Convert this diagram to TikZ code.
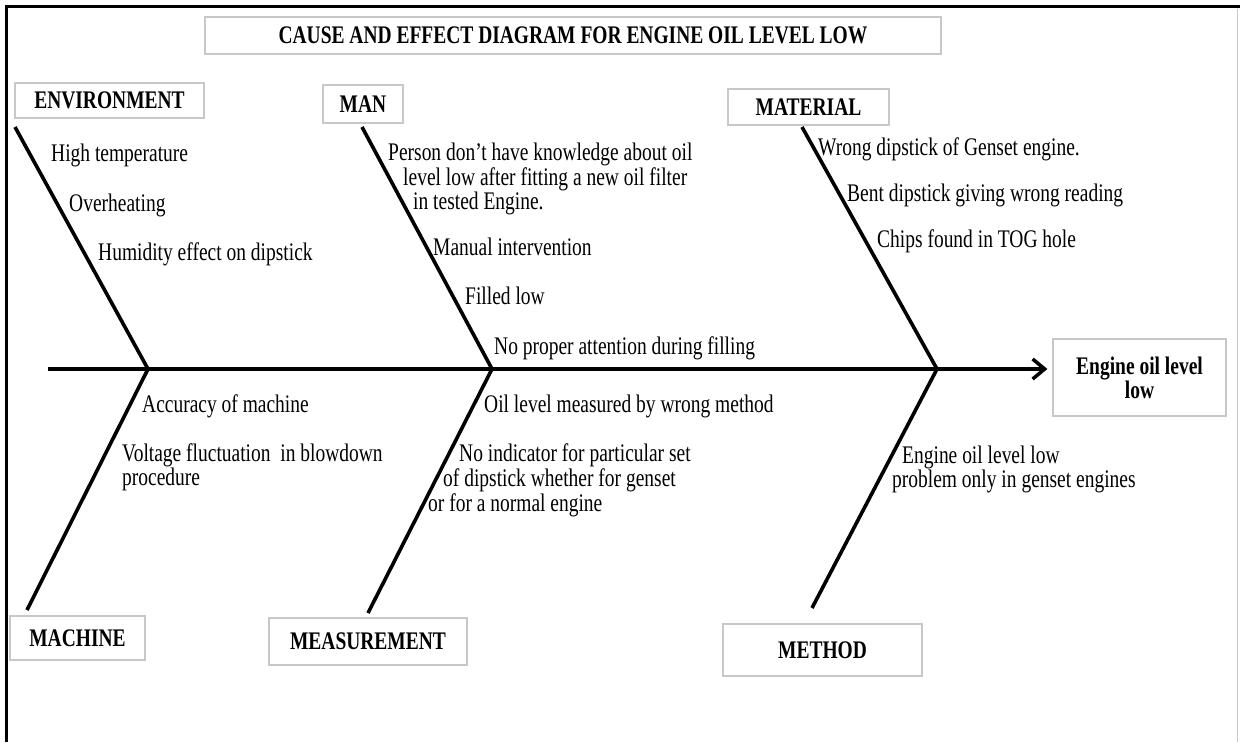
\documentclass[tikz,border=0pt]{standalone}
\usepackage{fontspec}
\setmainfont{Liberation Serif}[FakeStretch=0.77]
\usetikzlibrary{arrows.meta}
\definecolor{boxgray}{RGB}{200,200,200}
\newcommand{\fs}{\fontsize{25.3}{24}\selectfont}
\newcommand{\rows}[1]{\begin{tabular}[t]{@{}l@{}}#1\end{tabular}}
\begin{document}
\begin{tikzpicture}[x=1pt,y=-1pt,
  box/.style={draw=boxgray, line width=1.3pt, inner sep=0pt, font=\fs\bfseries, align=center},
  lbl/.style={anchor=base west, inner sep=0pt, font=\fs},
  bone/.style={line width=3.6pt},
  spine/.style={line width=4pt, -{Straight Barb[length=12pt,width=20pt,line width=3.5pt]}, shorten >=5pt}]
\useasboundingbox (0,0) rectangle (1240,742);
% frame
\draw[line width=3.5pt] (6.5,742) -- (6.5,6.5) -- (1240,6.5);
\draw[boxgray, line width=1pt] (1237.5,9) -- (1237.5,742);
% boxes
\node[box, minimum width=736pt, minimum height=37pt] (title) at (573,35.5) {CAUSE AND EFFECT DIAGRAM FOR ENGINE OIL LEVEL LOW};
\node[box, minimum width=189pt, minimum height=35pt] (env) at (109.5,100.5) {ENVIRONMENT};
\node[box, minimum width=80pt, minimum height=38pt] (man) at (363,104) {MAN};
\node[box, minimum width=161pt, minimum height=36pt] (mat) at (808.5,107) {MATERIAL};
\node[box, minimum width=173pt, minimum height=77pt] (eff) at (1139.5,377.5) {Engine oil level\\low};
\node[box, minimum width=135pt, minimum height=44pt] (mach) at (77.5,638) {MACHINE};
\node[box, minimum width=198pt, minimum height=47pt] (meas) at (368,641.5) {MEASUREMENT};
\node[box, minimum width=199pt, minimum height=52pt] (meth) at (822.5,650) {METHOD};
% coordinates
\coordinate (tail) at (48,369);
\coordinate (j1) at (148,369);
\coordinate (j2) at (492,369);
\coordinate (j3) at (937,369);
\coordinate (envS) at (15,127);
\coordinate (manS) at (362,127);
\coordinate (matS) at (802,127);
\coordinate (machE) at (27,610);
\coordinate (measE) at (368,613);
\coordinate (methE) at (812,608);
% spine and bones
\draw[spine] (tail) -- (tail -| eff.west);
\draw[bone] (envS) -- (j1) -- (machE);
\draw[bone] (manS) -- (j2) -- (measE);
\draw[bone] (matS) -- (j3) -- (methE);
% causes
\node[lbl] (envA) at (51,161) {High temperature};
\node[lbl] (envB) at (69,211) {Overheating};
\node[lbl] (envC) at (98,260) {Humidity effect on dipstick};
\node[lbl] (manA) at (388,160) {\rows{Person don’t have knowledge about oil\\\hspace*{15pt}level low after fitting a new oil filter\\\hspace*{25pt}in tested Engine.}};
\node[lbl] (manB) at (433,255) {Manual intervention};
\node[lbl] (manC) at (465,304) {Filled low};
\node[lbl] (manD) at (494,354) {No proper attention during filling};
\node[lbl] (matA) at (818,155) {Wrong dipstick of Genset engine.};
\node[lbl] (matB) at (847,201) {Bent dipstick giving wrong reading};
\node[lbl] (matC) at (877,247) {Chips found in TOG hole};
\node[lbl] (machA) at (142,412) {Accuracy of machine};
\node[lbl] (machB) at (122,461) {\rows{Voltage fluctuation\ \ in blowdown\\procedure}};
\node[lbl] (measA) at (484,412) {Oil level measured by wrong method};
\node[lbl] (measB) at (428,461) {\rows{\hspace*{31pt}No indicator for particular set\\\hspace*{15pt}of dipstick whether for genset\\or for a normal engine}};
\node[lbl] (methA) at (892,463) {\rows{\hspace*{10pt}Engine oil level low\\problem only in genset engines}};
\end{tikzpicture}
\end{document}
